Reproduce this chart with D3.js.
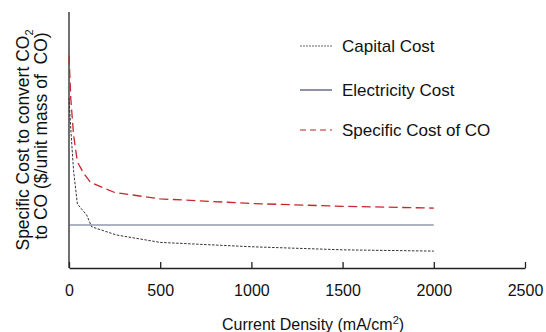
<!DOCTYPE html>
<html>
<head>
<meta charset="utf-8">
<script src="https://cdn.jsdelivr.net/npm/d3@7"></script>
<style>
  body { margin: 0; background: #fff; }
  text { font-family: "Liberation Sans", Arial, sans-serif; fill: #111; }
</style>
</head>
<body>
<div id="canvas"></div>
<script>
"use strict"

let svgWidth = 546
let svgHeight = 332

let margin = { top: 12, right: 21, bottom: 64, left: 69 }

// x ticks along the bottom
let xTicks = [0, 500, 1000, 1500, 2000, 2500]

// current density points (mA/cm2) and relative cost (no y scale shown)
let capitalX = [0, 11, 25, 46, 97, 124, 260, 500, 1000, 1500, 2000]
let capitalY = [66.4, 53, 38, 25, 20.7, 16.1, 12.9, 10, 8.3, 7.1, 6.6]

let electricityX = [0, 2000]
let electricityY = [16.8, 16.8]

let specificX = [0, 10, 25, 46, 80, 119, 250, 500, 1000, 1500, 2000]
let specificY = [83, 66, 52, 41.5, 37, 33.4, 29.5, 27, 25.2, 24.1, 23.4]

let legendNames = ["Capital Cost", "Electricity Cost", "Specific Cost of CO"]

let svg = d3.select("#canvas")
    .append("svg")
    .attr("width", svgWidth)
    .attr("height", svgHeight)

let width = svgWidth - margin.left - margin.right
let height = svgHeight - margin.top - margin.bottom

let xScale = d3.scaleLinear().domain([0, 2500]).range([0, width])
let yScale = d3.scaleLinear().domain([0, 100]).range([height, 0])

let g = svg.append("g")
    .attr("transform", `translate(${margin.left},${margin.top})`)

// x axis with ticks pointing up
let xAxis = d3.axisBottom(xScale)
    .tickValues(xTicks)
    .tickFormat(d3.format("d"))
    .tickSizeInner(-6)
    .tickSizeOuter(0)
    .tickPadding(17)

let xg = g.append("g")
    .attr("transform", `translate(0,${height})`)
    .call(xAxis)
xg.select(".domain").attr("stroke", "#222").attr("stroke-width", 1.3)
xg.selectAll(".tick line").attr("stroke", "#222").attr("stroke-width", 1.3)
xg.selectAll(".tick text")
    .style("font-family", "Liberation Sans, Arial, sans-serif")
    .style("font-size", "16px")
    .attr("fill", "#111")

// y axis: plain line, no ticks
g.append("line")
    .attr("x1", 0).attr("x2", 0)
    .attr("y1", 0).attr("y2", height)
    .attr("stroke", "#222")
    .attr("stroke-width", 1.3)

let line = d3.line()
    .x(function (d) { return xScale(d[0]) })
    .y(function (d) { return yScale(d[1]) })

let series = [
    { x: capitalX, y: capitalY, color: "#333", dash: "2.5,1.5", w: 1 },
    { x: electricityX, y: electricityY, color: "#5a6683", dash: null, w: 1.2 },
    { x: specificX, y: specificY, color: "#c8262b", dash: "9,4.5", w: 1.3 }
]

series.forEach(function (s) {
    let pts = s.x.map(function (v, i) { return [v, s.y[i]] })
    g.append("path")
        .attr("d", line(pts))
        .attr("fill", "none")
        .attr("stroke", s.color)
        .attr("stroke-width", s.w)
        .attr("stroke-dasharray", s.dash)
})

// legend
let legendY = [46, 90, 130]
let legendColors = ["#666", "#2e3b5e", "#d46a6a"]
let legendDash = ["2,1", null, "6,4"]
for (let i = 0; i < legendNames.length; i++) {
    svg.append("line")
        .attr("x1", 300).attr("x2", 332)
        .attr("y1", legendY[i]).attr("y2", legendY[i])
        .attr("stroke", legendColors[i])
        .attr("stroke-width", i === 2 ? 1.4 : 1.1)
        .attr("stroke-dasharray", legendDash[i])
    svg.append("text")
        .attr("x", 342)
        .attr("y", legendY[i] + 6)
        .style("font-size", "17px")
        .text(legendNames[i])
}

// x axis title
let xt = svg.append("text")
    .attr("x", 313)
    .attr("y", 330)
    .attr("text-anchor", "middle")
    .style("font-size", "16px")
xt.append("tspan").text("Current Density (mA/cm")
xt.append("tspan").attr("dy", -6).style("font-size", "11px").text("2")
xt.append("tspan").attr("dy", 6).text(")")

// y axis title, two lines
let yt1 = svg.append("text")
    .attr("transform", "translate(29,140) rotate(-90)")
    .attr("text-anchor", "middle")
    .style("font-size", "17.5px")
yt1.append("tspan").text("Specific Cost to convert CO")
yt1.append("tspan").attr("dy", 4).style("font-size", "11px").text("2")

svg.append("text")
    .attr("transform", "translate(47,136) rotate(-90)")
    .attr("text-anchor", "middle")
    .style("font-size", "17.5px")
    .style("white-space", "pre")
    .text("to CO ($/unit mass of  CO)")
</script>
</body>
</html>
